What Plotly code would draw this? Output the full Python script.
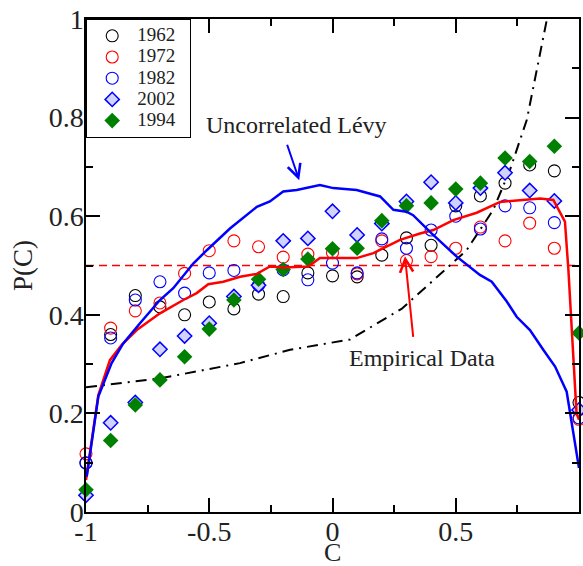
import plotly.graph_objects as go

C = [-1.0, -0.9, -0.8, -0.7, -0.6, -0.5, -0.4, -0.3, -0.2, -0.1, 0.0,
     0.1, 0.2, 0.3, 0.4, 0.5, 0.6, 0.7, 0.8, 0.9, 1.0]

p1962 = [0.100, 0.360, 0.439, 0.416, 0.400, 0.426, 0.412, 0.442, 0.437, 0.485, 0.479,
         0.477, 0.521, 0.556, 0.541, 0.621, 0.641, 0.667, 0.704, 0.692, 0.222]
p1972 = [0.118, 0.373, 0.408, 0.424, 0.484, 0.530, 0.550, 0.538, 0.517, 0.523, 0.526,
         0.483, 0.550, 0.510, 0.518, 0.535, 0.578, 0.550, 0.586, 0.535, 0.188]
p1982 = [0.099, 0.353, 0.430, 0.467, 0.444, 0.485, 0.490, 0.460, 0.491, 0.471, 0.505,
         0.485, 0.554, 0.535, 0.572, 0.600, 0.574, 0.621, 0.617, 0.587, 0.191]
p2002 = [0.034, 0.181, 0.222, 0.330, 0.357, 0.383, 0.437, 0.460, 0.550, 0.555, 0.610,
         0.562, 0.585, 0.630, 0.669, 0.627, 0.657, 0.688, 0.652, 0.631, 0.207]
p1994 = [0.045, 0.145, 0.217, 0.268, 0.315, 0.371, 0.430, 0.472, 0.492, 0.513, 0.534,
         0.535, 0.591, 0.621, 0.627, 0.655, 0.667, 0.718, 0.711, 0.742, 0.363]

# Empirical data curve (red solid)
emp_x = [-1.0, -0.95, -0.903, -0.855, -0.794, -0.7, -0.605, -0.551, -0.504, -0.443, -0.375,
         -0.307, -0.254, -0.2, -0.098, -0.051, 0.017, 0.098, 0.166, 0.22, 0.274, 0.355,
         0.409, 0.49, 0.585, 0.68, 0.761, 0.842, 0.896, 0.943, 0.957, 0.977, 0.99, 1.0]
emp_y = [0.065, 0.237, 0.308, 0.339, 0.369, 0.403, 0.430, 0.444, 0.462, 0.467, 0.477,
         0.483, 0.498, 0.496, 0.498, 0.515, 0.515, 0.515, 0.525, 0.538, 0.552, 0.565,
         0.572, 0.592, 0.607, 0.629, 0.632, 0.636, 0.633, 0.589, 0.491, 0.322, 0.200, 0.187]

# Uncorrelated Levy curve (blue solid)
levy_x = [-0.997, -0.95, -0.896, -0.849, -0.781, -0.7, -0.646, -0.565, -0.51, -0.416,
          -0.307, -0.254, -0.2, -0.145, -0.051, 0.003, 0.098, 0.193, 0.247, 0.3, 0.327,
          0.402, 0.504, 0.598, 0.646, 0.707, 0.747, 0.801, 0.855, 0.903, 0.95, 0.99, 1.0]
levy_y = [0.072, 0.234, 0.302, 0.342, 0.383, 0.430, 0.454, 0.504, 0.531, 0.575,
          0.619, 0.630, 0.650, 0.653, 0.663, 0.657, 0.653, 0.640, 0.613, 0.609, 0.602,
          0.565, 0.518, 0.481, 0.467, 0.427, 0.396, 0.369, 0.329, 0.295, 0.244, 0.119, 0.089]

# dash-dot reference curve
dd_x = [-1.0, -0.7, -0.375, -0.172, 0.071, 0.28, 0.396, 0.544, 0.652, 0.72, 0.788, 0.87]
dd_y = [0.253, 0.271, 0.302, 0.329, 0.350, 0.412, 0.464, 0.531, 0.613, 0.694, 0.795, 1.0]

half_x = [-1.0, 1.0]
half_y = [0.5, 0.5]

SERIF = "Liberation Serif, Times New Roman, serif"
TXT = "#222222"


def leg(name):
    return '<span style="font-size:19px">' + name + '\u2002</span>'


fig = go.Figure()

fig.add_trace(go.Scatter(x=half_x, y=half_y, mode="lines", showlegend=False,
                         line=dict(color="#ff0000", width=1.5, dash="8px,5px")))
fig.add_trace(go.Scatter(x=dd_x, y=dd_y, mode="lines", showlegend=False,
                         line=dict(color="black", width=2, dash="11px,6px,2px,6px")))


def circ(y, name, col):
    fig.add_trace(go.Scatter(x=C, y=y, mode="markers", name=leg(name), cliponaxis=False,
                             marker=dict(symbol="circle-open", size=12, color=col,
                                         line=dict(width=1.1, color=col))))


circ(p1962, "1962", "black")
circ(p1972, "1972", "#ff0000")
circ(p1982, "1982", "#0000ff")
fig.add_trace(go.Scatter(x=C, y=p2002, mode="markers", name=leg("2002"), cliponaxis=False,
                         marker=dict(symbol="diamond", size=11, color="#d2d2ff",
                                     line=dict(width=1.5, color="#0000ff"))))
fig.add_trace(go.Scatter(x=C, y=p1994, mode="markers", name=leg("1994"), cliponaxis=False,
                         marker=dict(symbol="diamond", size=12, color="#008000",
                                     line=dict(width=0))))

fig.add_trace(go.Scatter(x=emp_x, y=emp_y, mode="lines", showlegend=False,
                         line=dict(color="#ff0000", width=2.5)))
fig.add_trace(go.Scatter(x=levy_x, y=levy_y, mode="lines", showlegend=False,
                         line=dict(color="#0000ff", width=2.5)))

axis_common = dict(showline=True, linecolor="black", linewidth=1.5, mirror="ticks",
                   ticks="inside", ticklen=14, tickwidth=1.5, tickcolor="black",
                   showgrid=False, zeroline=False, automargin=False,
                   tickfont=dict(family=SERIF, size=28, color=TXT))

fig.update_xaxes(range=[-1, 1], tickvals=[-1, -0.5, 0, 0.5, 1],
                 ticktext=["-1", "-0.5", "0", "0.5", "1"],
                 ticklabelstandoff=-6,
                 minor=dict(tickvals=[-0.75, -0.25, 0.25, 0.75], ticks="inside",
                            ticklen=7, tickwidth=1.5, tickcolor="black"),
                 **axis_common)
fig.update_yaxes(range=[0, 1], tickvals=[0, 0.2, 0.4, 0.6, 0.8, 1],
                 ticktext=["0", "0.2", "0.4", "0.6", "0.8", "1"],
                 ticklabelstandoff=-5,
                 minor=dict(tickvals=[0.1, 0.3, 0.5, 0.7, 0.9], ticks="inside",
                            ticklen=7, tickwidth=1.5, tickcolor="black"),
                 title=dict(text="P(C)", font=dict(family=SERIF, size=27, color=TXT), standoff=8),
                 **axis_common)

# x-axis title placed just below the tick labels
fig.add_annotation(x=0.5, y=-0.083, xref="paper", yref="paper", text="C",
                   showarrow=False, yanchor="middle",
                   font=dict(family=SERIF, size=26, color=TXT))

fig.add_annotation(x=-0.135, y=0.673, ax=-0.186, ay=0.748, axref="x", ayref="y",
                   xref="x", yref="y", text="", showarrow=True, arrowhead=5,
                   arrowsize=1.3, arrowwidth=2, arrowcolor="#0000ff")
fig.add_annotation(x=-0.148, y=0.785, xref="x", yref="y", text="Uncorrelated Lévy",
                   showarrow=False, font=dict(family=SERIF, size=24, color=TXT))
fig.add_annotation(x=0.294, y=0.519, ax=0.328, ay=0.352, axref="x", ayref="y",
                   xref="x", yref="y", text="", showarrow=True, arrowhead=5,
                   arrowsize=1.3, arrowwidth=2, arrowcolor="#ff0000")
fig.add_annotation(x=0.363, y=0.312, xref="x", yref="y", text="Empirical Data",
                   showarrow=False, font=dict(family=SERIF, size=24, color=TXT))

fig.update_layout(width=583, height=566, margin=dict(l=86, r=4, t=19, b=54),
                  plot_bgcolor="white", paper_bgcolor="white",
                  legend=dict(x=0, y=1, xanchor="left", yanchor="top",
                              bordercolor="black", borderwidth=1.2, bgcolor="white",
                              font=dict(family=SERIF, size=14, color=TXT),
                              tracegroupgap=0, itemwidth=40))

fig.write_html("out.html")
